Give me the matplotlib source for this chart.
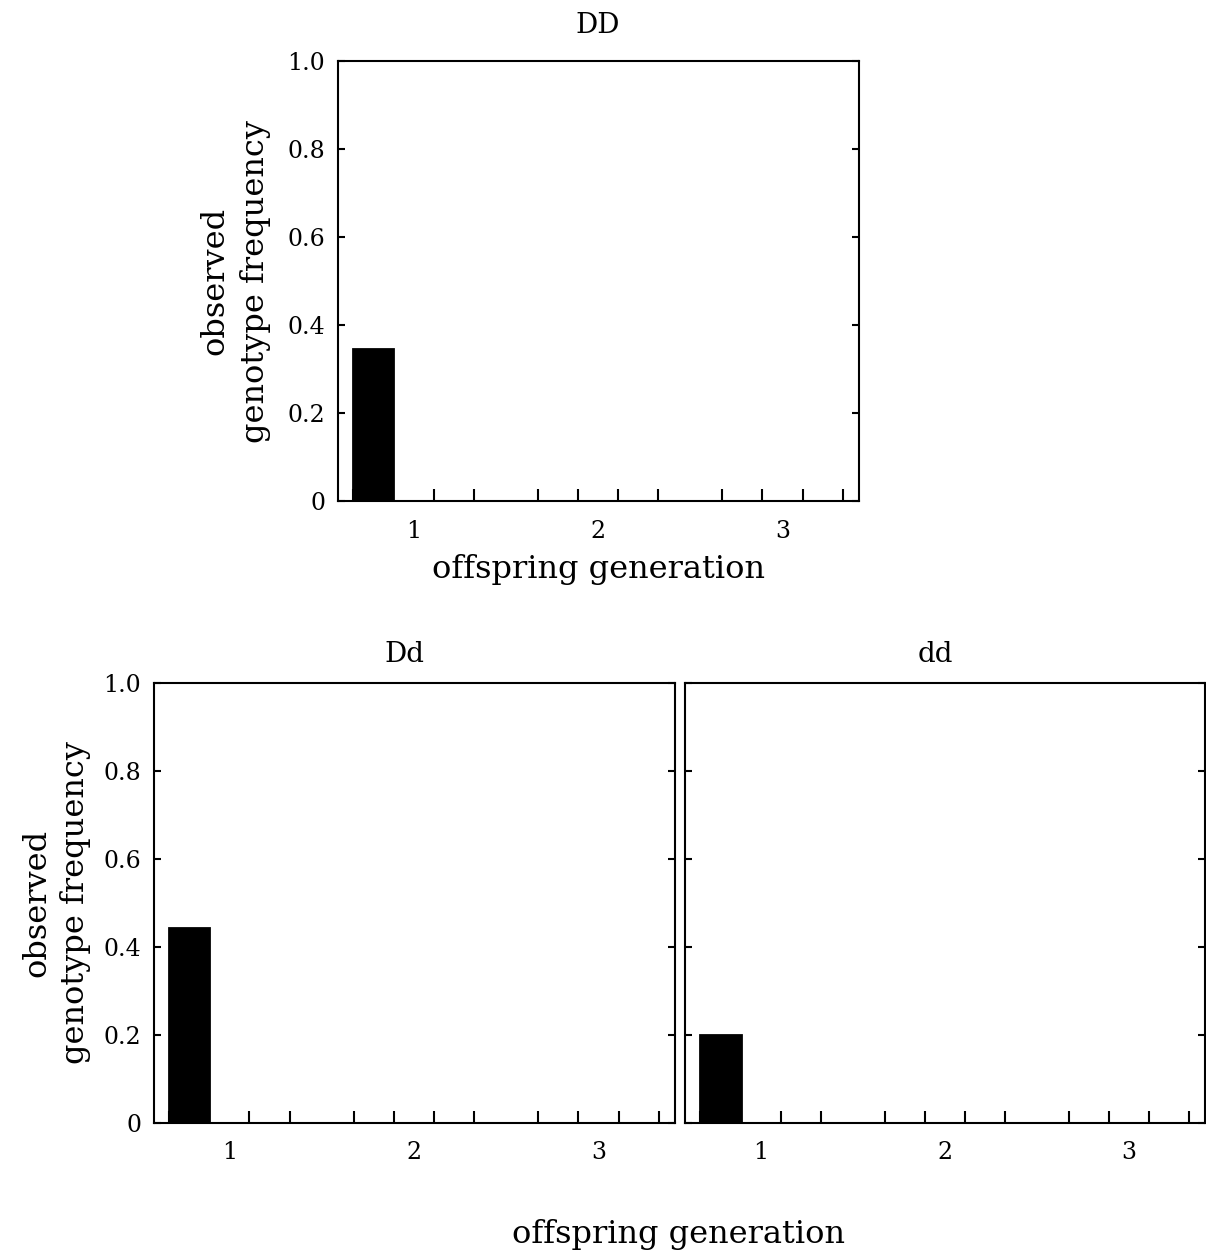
import matplotlib
matplotlib.use("Agg")
import matplotlib.pyplot as plt
import matplotlib.ticker

plt.rcParams['font.family'] = ['DejaVu Serif']

# observed frequencies so far (only generation 1 has been run)
generations = [1, 2, 3]
freq_DD = [0.347]
freq_Dd = [0.443]
freq_dd = [0.201]

y_ticks = [0, 0.2, 0.4, 0.6, 0.8, 1.0]
y_labels = ['0', '0.2', '0.4', '0.6', '0.8', '1.0']
slot = 0.218  # width of one bar slot, 3 slots per generation

fig = plt.figure(figsize=(12.06, 12.54), dpi=100)

ax_DD = fig.add_axes([0.2799, 0.6001, 0.4320, 0.3513])
ax_Dd = fig.add_axes([0.1273, 0.1045, 0.4320, 0.3509])
ax_dd = fig.add_axes([0.5680, 0.1045, 0.4308, 0.3509])


def setup(ax, title, freq, title_pad, title_x):
    xs = [g - slot for g in generations[:len(freq)]]
    ax.bar(xs, freq, width=slot, color='black', edgecolor='black', linewidth=2, zorder=3)
    ax.set_xlim(0.589, 3.412)
    ax.set_ylim(0, 1.0)
    ax.set_title(title, fontsize=20, pad=title_pad, x=title_x)

    ax.set_yticks(y_ticks)
    ax.set_yticklabels(y_labels)
    ax.set_xticks(generations)
    ax.set_xticklabels([str(g) for g in generations])
    minors = []
    for g in generations:
        for k in range(4):
            minors.append(g + (k - 1.5) * slot)
    ax.xaxis.set_minor_locator(matplotlib.ticker.FixedLocator(minors))

    ax.tick_params(axis='y', which='major', direction='in', length=4.8, width=1.5,
                   left=True, right=True, pad=9, labelsize=17)
    ax.tick_params(axis='x', which='major', length=0, pad=13, labelsize=17)
    ax.tick_params(axis='x', which='minor', direction='in', length=8.6, width=1.5,
                   bottom=True, top=False)
    for sp in ax.spines.values():
        sp.set_linewidth(1.5)


setup(ax_DD, 'DD', freq_DD, 20, 0.5)
setup(ax_Dd, 'Dd', freq_Dd, 15, 0.481)
setup(ax_dd, 'dd', freq_dd, 15, 0.481)
ax_dd.set_yticklabels([])

ylab = 'observed\ngenotype frequency'
ax_DD.set_ylabel(ylab, fontsize=23, linespacing=1.4)
ax_DD.yaxis.set_label_coords(-0.127, 0.5)
ax_Dd.set_ylabel(ylab, fontsize=23, linespacing=1.3)
ax_Dd.yaxis.set_label_coords(-0.12, 0.5)

ax_DD.set_xlabel('offspring generation', fontsize=23, labelpad=8)
fig.text(0.563, 0.0152, 'offspring generation', fontsize=23, ha='center', va='center')

fig.savefig('out.png', dpi=100)
